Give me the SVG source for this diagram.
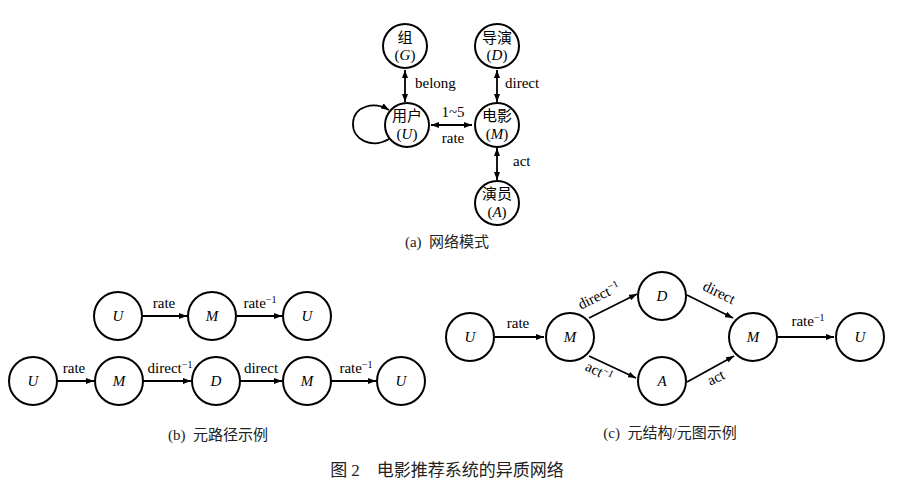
<svg xmlns="http://www.w3.org/2000/svg" width="921" height="489" viewBox="0 0 921 489">
<style>
.n{fill:#fff;stroke:#000;stroke-width:2}
.e{fill:none;stroke:#000;stroke-width:1.8}
.t{font-family:"Liberation Serif","Noto Sans CJK SC",serif;font-size:15px;fill:#000}
.c{text-anchor:middle}
.i{font-style:italic}
.s{font-size:10px}
.cap{font-family:"Liberation Serif","Noto Sans CJK SC",serif;font-size:15px;fill:#222;text-anchor:middle;white-space:pre}
</style>
<defs>
<marker id="ah" viewBox="0 0 8 6" refX="8" refY="3" markerWidth="8" markerHeight="6" markerUnits="userSpaceOnUse" orient="auto-start-reverse">
<path d="M0,0 L8,3 L0,6 z" fill="#000"/>
</marker>
</defs>
<g id="connectors">
<line class="e" x1="405" y1="70" x2="405" y2="102" marker-start="url(#ah)" marker-end="url(#ah)"/>
<line class="e" x1="497" y1="70" x2="497" y2="102" marker-start="url(#ah)" marker-end="url(#ah)"/>
<line class="e" x1="431" y1="125" x2="472" y2="125" marker-start="url(#ah)" marker-end="url(#ah)"/>
<line class="e" x1="497" y1="148" x2="497" y2="180" marker-start="url(#ah)" marker-end="url(#ah)"/>
<path class="e" d="M389,139 C372,149 352,140 353,123 C354,106 374,101 389,110" marker-end="url(#ah)"/>
<line class="e" x1="142" y1="316" x2="187" y2="316" marker-end="url(#ah)"/>
<line class="e" x1="237" y1="316" x2="282" y2="316" marker-end="url(#ah)"/>
<line class="e" x1="57" y1="381" x2="94" y2="381" marker-end="url(#ah)"/>
<line class="e" x1="143" y1="381" x2="191" y2="381" marker-end="url(#ah)"/>
<line class="e" x1="240" y1="381" x2="282" y2="381" marker-end="url(#ah)"/>
<line class="e" x1="331" y1="381" x2="376" y2="381" marker-end="url(#ah)"/>
<line class="e" x1="495" y1="337" x2="544" y2="337" marker-end="url(#ah)"/>
<line class="e" x1="589" y1="318" x2="637" y2="294" marker-end="url(#ah)"/>
<line class="e" x1="589" y1="356" x2="636" y2="378" marker-end="url(#ah)"/>
<line class="e" x1="687" y1="295" x2="733" y2="318" marker-end="url(#ah)"/>
<line class="e" x1="687" y1="382" x2="734" y2="356" marker-end="url(#ah)"/>
<line class="e" x1="778" y1="337" x2="834" y2="337" marker-end="url(#ah)"/>
</g>
<g id="edge-labels">
<text class="t" x="415" y="88">belong</text>
<text class="t" x="505" y="88">direct</text>
<text class="t c" x="453" y="117">1~5</text>
<text class="t c" x="453" y="143">rate</text>
<text class="t" x="513" y="166">act</text>
<text class="t c" x="164" y="308">rate</text>
<text class="t c" x="260" y="308">rate<tspan class="s" dy="-5">−1</tspan></text>
<text class="t c" x="74" y="373">rate</text>
<text class="t c" x="170" y="373">direct<tspan class="s" dy="-5">−1</tspan></text>
<text class="t c" x="261" y="373">direct</text>
<text class="t c" x="356" y="373">rate<tspan class="s" dy="-5">−1</tspan></text>
<text class="t c" x="518" y="328">rate</text>
<text class="t c" x="808" y="326">rate<tspan class="s" dy="-5">−1</tspan></text>
<text class="t c" transform="translate(601,300) rotate(-26)">direct<tspan class="s" dy="-5">−1</tspan></text>
<text class="t c" transform="translate(717,297) rotate(26)">direct</text>
<text class="t c" transform="translate(597,376) rotate(26)">act<tspan class="s" dy="-5">−1</tspan></text>
<text class="t c" transform="translate(718,382) rotate(-26)">act</text>
</g>
<g id="a-G"><circle class="n" cx="405" cy="46" r="22"/><text class="t c" x="405" y="43">组</text><text class="t c" x="405" y="60">(<tspan class="i">G</tspan>)</text></g>
<g id="a-D"><circle class="n" cx="497" cy="46" r="22"/><text class="t c" x="497" y="43">导演</text><text class="t c" x="497" y="60">(<tspan class="i">D</tspan>)</text></g>
<g id="a-U"><circle class="n" cx="407" cy="125" r="22"/><text class="t c" x="407" y="121">用户</text><text class="t c" x="407" y="139">(<tspan class="i">U</tspan>)</text></g>
<g id="a-M"><circle class="n" cx="497" cy="125" r="22"/><text class="t c" x="497" y="121">电影</text><text class="t c" x="497" y="139">(<tspan class="i">M</tspan>)</text></g>
<g id="a-A"><circle class="n" cx="497" cy="203" r="22"/><text class="t c" x="497" y="199">演员</text><text class="t c" x="497" y="217">(<tspan class="i">A</tspan>)</text></g>
<g id="b1-U1"><circle class="n" cx="118" cy="316" r="24"/><text class="t c i" x="118" y="321">U</text></g>
<g id="b1-M"><circle class="n" cx="212" cy="316" r="24"/><text class="t c i" x="212" y="321">M</text></g>
<g id="b1-U2"><circle class="n" cx="307" cy="316" r="24"/><text class="t c i" x="307" y="321">U</text></g>
<g id="b2-U1"><circle class="n" cx="33" cy="381" r="24"/><text class="t c i" x="33" y="386">U</text></g>
<g id="b2-M1"><circle class="n" cx="119" cy="381" r="24"/><text class="t c i" x="119" y="386">M</text></g>
<g id="b2-D"><circle class="n" cx="216" cy="381" r="24"/><text class="t c i" x="216" y="386">D</text></g>
<g id="b2-M2"><circle class="n" cx="307" cy="381" r="24"/><text class="t c i" x="307" y="386">M</text></g>
<g id="b2-U2"><circle class="n" cx="401" cy="381" r="24"/><text class="t c i" x="401" y="386">U</text></g>
<g id="c-U1"><circle class="n" cx="470" cy="337" r="24"/><text class="t c i" x="470" y="342">U</text></g>
<g id="c-M1"><circle class="n" cx="570" cy="337" r="24"/><text class="t c i" x="570" y="342">M</text></g>
<g id="c-D"><circle class="n" cx="662" cy="296" r="24"/><text class="t c i" x="662" y="301">D</text></g>
<g id="c-A"><circle class="n" cx="662" cy="381" r="24"/><text class="t c i" x="662" y="386">A</text></g>
<g id="c-M2"><circle class="n" cx="753" cy="337" r="24"/><text class="t c i" x="753" y="342">M</text></g>
<g id="c-U2"><circle class="n" cx="860" cy="337" r="24"/><text class="t c i" x="860" y="342">U</text></g>
<g id="captions">
<text class="cap" x="447" y="247" xml:space="preserve">(a)  网络模式</text>
<text class="cap" x="218" y="440" xml:space="preserve">(b)  元路径示例</text>
<text class="cap" x="670" y="438" xml:space="preserve">(c)  元结构/元图示例</text>
<text class="cap" x="447" y="476" style="font-size:17px" xml:space="preserve">图 2    电影推荐系统的异质网络</text>
</g>
</svg>
